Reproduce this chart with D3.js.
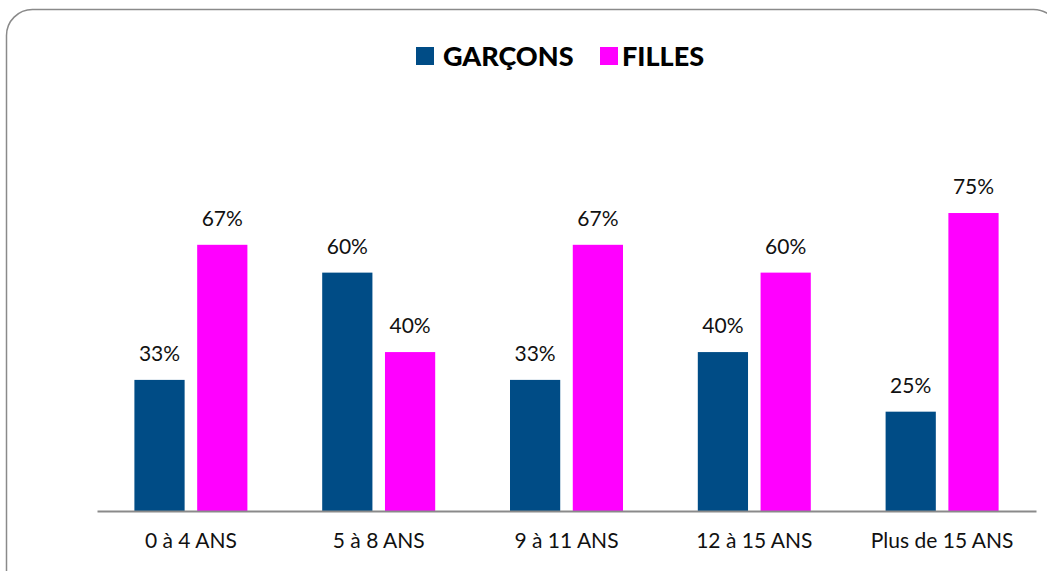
<!DOCTYPE html>
<html>
<head>
<meta charset="utf-8">
<script src="https://cdn.jsdelivr.net/npm/d3@7"></script>
<style>
  body { margin: 0; background: #fff; }
  svg { display: block; }
</style>
</head>
<body>
<svg id="chart" width="1047" height="571"></svg>
<script>
// data
var categories = ["0 à 4 ANS", "5 à 8 ANS", "9 à 11 ANS", "12 à 15 ANS", "Plus de 15 ANS"];
var garcons = [0.33, 0.60, 0.33, 0.40, 0.25];
var filles = [0.67, 0.40, 0.67, 0.60, 0.75];
var seriesNames = ["GARÇONS", "FILLES"];
var seriesColors = ["#004C86", "#FF00FF"];

var svg = d3.select("#chart");
var font = "Lato, 'Open Sans', sans-serif";

// outer frame with rounded corners, running past the right and bottom edges
svg.append("rect")
    .attr("x", 6.5)
    .attr("y", 9.5)
    .attr("width", 1053)
    .attr("height", 700)
    .attr("rx", 26)
    .attr("ry", 26)
    .attr("fill", "white")
    .style("stroke", "#8a8a8a")
    .style("stroke-width", 1.5);

var x = d3.scaleBand()
    .domain(categories)
    .range([97, 1036]);

var x1 = d3.scaleBand()
    .domain(seriesNames)
    .range([0, 113])
    .paddingInner(0.2);

var y = d3.scaleLinear()
    .domain([0, 1])
    .range([511, 113.7]);

var rows = categories.map(function(c, i) {
  return { cat: c, vals: [garcons[i], filles[i]] };
});

var groups = svg.selectAll(".grp")
    .data(rows)
    .enter().append("g")
    .attr("class", "grp")
    .attr("transform", function(d) {
      return "translate(" + (x(d.cat) + x.bandwidth() / 2 - 56.5) + ",0)";
    });

groups.selectAll("rect")
    .data(function(d) { return d.vals.map(function(v, j) { return { s: seriesNames[j], v: v, j: j }; }); })
    .enter().append("rect")
    .attr("x", function(d) { return x1(d.s); })
    .attr("width", x1.bandwidth())
    .attr("y", function(d) { return y(d.v); })
    .attr("height", function(d) { return y(0) - y(d.v); })
    .attr("fill", function(d) { return seriesColors[d.j]; });

groups.selectAll("text")
    .data(function(d) { return d.vals.map(function(v, j) { return { s: seriesNames[j], v: v }; }); })
    .enter().append("text")
    .attr("x", function(d) { return x1(d.s) + x1.bandwidth() / 2; })
    .attr("y", function(d) { return y(d.v) - 19; })
    .attr("text-anchor", "middle")
    .style("font-family", font)
    .attr("font-size", "21px")
    .style("fill", "#111")
    .text(function(d) { return Math.round(d.v * 100) + "%"; });

// category axis
var axis = svg.append("g")
    .attr("transform", "translate(0," + y(0) + ")")
    .call(d3.axisBottom(x).tickSize(0));
axis.select(".domain").attr("stroke", "#8a8a8a").attr("stroke-width", 2);
axis.selectAll("text")
    .attr("y", 37)
    .attr("dy", 0)
    .style("font-family", font)
    .attr("font-size", "21px")
    .style("fill", "#111");

// legend
var legend = svg.append("g").attr("transform", "translate(416,47)");
var legendX = [0, 184];
var legendGap = [27, 22];
seriesNames.forEach(function(n, i) {
  var item = legend.append("g").attr("transform", "translate(" + legendX[i] + ",0)");
  item.append("rect")
      .attr("width", 18)
      .attr("height", 18)
      .attr("fill", seriesColors[i]);
  item.append("text")
      .attr("x", legendGap[i])
      .attr("y", 18.5)
      .style("font-family", font)
      .style("font-weight", "900")
      .attr("font-size", "27px")
      .style("fill", "#000")
      .text(n);
});
</script>
</body>
</html>
